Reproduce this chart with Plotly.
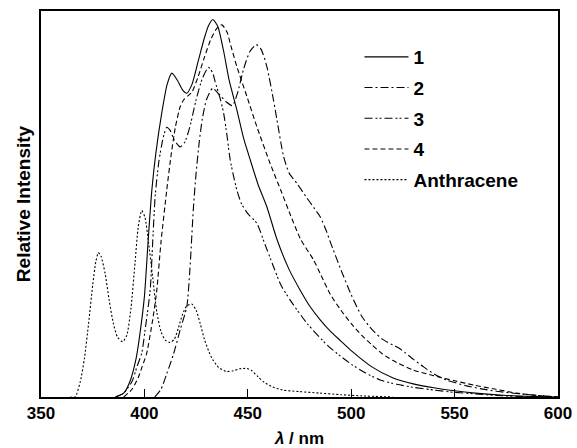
import plotly.graph_objects as go

# ---- data ----
x1 = [386, 390, 393, 396, 398, 400, 402, 403.6, 405.5, 408.4, 411, 413.3, 416, 418.5, 420.5, 423, 426, 429, 431,
      433.1, 435.5, 438.2, 441, 444.7, 448, 451.2, 455, 459.2, 464, 470, 475, 480, 485, 490, 495, 500, 510, 520,
      530, 540, 550, 560, 575, 590, 600]
y1 = [0, 0.01, 0.04, 0.10, 0.17, 0.26, 0.42, 0.536, 0.63, 0.736, 0.81, 0.839, 0.82, 0.795, 0.787, 0.81, 0.87,
      0.93, 0.962, 0.978, 0.96, 0.899, 0.82, 0.744, 0.67, 0.614, 0.55, 0.493, 0.41, 0.33, 0.28, 0.235, 0.20, 0.17,
      0.145, 0.12, 0.078, 0.05, 0.034, 0.024, 0.016, 0.01, 0.004, 0.001, 0]

x2 = [405, 408, 410.8, 414, 417.3, 420.5, 422, 423.7, 425, 426.5, 428, 430, 433, 436, 439.5, 442.5, 445, 448,
      451, 454.1, 456.5, 459.2, 462.4, 464.1, 467.3, 470, 473.8, 478, 482, 485, 488, 490, 495, 500, 505, 510,
      515, 520, 523, 526, 530, 535, 540, 546, 555, 563, 570, 580, 590, 600]
y2 = [0, 0.02, 0.06, 0.11, 0.174, 0.234, 0.33, 0.49, 0.58, 0.66, 0.72, 0.77, 0.80, 0.785, 0.765, 0.755, 0.787,
      0.85, 0.895, 0.913, 0.90, 0.856, 0.77, 0.718, 0.623, 0.58, 0.553, 0.52, 0.49, 0.467, 0.43, 0.40, 0.33,
      0.265, 0.21, 0.175, 0.15, 0.135, 0.127, 0.115, 0.098, 0.078, 0.06, 0.044, 0.03, 0.021, 0.015, 0.009,
      0.004, 0]

x3 = [386, 390, 394, 396.5, 398.7, 400.5, 402.8, 404, 405.2, 407, 409, 410.8, 412.5, 414.5, 417.3, 419.5, 422,
      425, 428, 431, 433, 434.2, 436.6, 438.2, 439.9, 441.5, 444.7, 447, 450, 454.4, 458, 462.4, 466, 470.5,
      478.6, 488.3, 495, 500, 507, 514, 522, 530, 540, 550, 560, 570, 585, 600]
y3 = [0, 0.01, 0.04, 0.08, 0.113, 0.18, 0.277, 0.40, 0.52, 0.61, 0.67, 0.699, 0.69, 0.665, 0.648, 0.66, 0.70,
      0.77, 0.825, 0.854, 0.84, 0.817, 0.774, 0.739, 0.679, 0.614, 0.536, 0.50, 0.475, 0.45, 0.40, 0.338, 0.29,
      0.251, 0.191, 0.135, 0.105, 0.085, 0.062, 0.044, 0.033, 0.025, 0.018, 0.012, 0.008, 0.004, 0.001, 0]

x4 = [390, 394, 397, 399, 401.1, 404, 406, 408, 410.8, 413, 415, 417.3, 419, 421, 423, 426, 429, 432, 435,
      437.5, 440, 441.5, 444.7, 449.6, 454.4, 460.8, 466, 470, 475.4, 481.8, 485, 490, 495, 500, 505, 510, 515,
      520, 530, 540, 550, 560, 570, 580, 590, 600]
y4 = [0, 0.02, 0.05, 0.08, 0.113, 0.20, 0.277, 0.40, 0.536, 0.63, 0.70, 0.752, 0.77, 0.78, 0.79, 0.83, 0.88,
      0.925, 0.955, 0.964, 0.945, 0.916, 0.856, 0.778, 0.70, 0.605, 0.535, 0.48, 0.41, 0.355, 0.32, 0.265,
      0.225, 0.19, 0.16, 0.135, 0.112, 0.095, 0.07, 0.055, 0.042, 0.03, 0.02, 0.01, 0.004, 0]

xa = [364, 366.5, 369, 371, 373, 375, 376.5, 377.7, 379, 381, 383, 385, 387, 389.5, 391.5, 393.5, 395.5, 397,
      398.7, 400.3, 402, 404, 406, 408, 410, 412.4, 414.5, 416.5, 418.5, 420.5, 422.9, 425, 427, 429, 431, 433,
      436, 439.9, 443, 446, 449.6, 452, 455, 458, 462, 467, 475, 485, 495, 505, 520]
ya = [0, 0, 0.04, 0.10, 0.19, 0.29, 0.35, 0.374, 0.365, 0.32, 0.25, 0.19, 0.155, 0.143, 0.16, 0.23, 0.35, 0.44,
      0.483, 0.465, 0.40, 0.31, 0.22, 0.17, 0.148, 0.141, 0.15, 0.18, 0.215, 0.236, 0.241, 0.225, 0.19, 0.15,
      0.12, 0.097, 0.076, 0.066, 0.068, 0.073, 0.074, 0.068, 0.052, 0.038, 0.026, 0.018, 0.014, 0.01, 0.006,
      0.003, 0]

names = ["1", "2", "3", "4", "Anthracene"]
tick_vals = [350, 400, 450, 500, 550, 600]
tick_text = ["350", "400", "450", "500", "550", "600"]

series = [(x1, y1), (x2, y2), (x3, y3), (x4, y4), (xa, ya)]
dashes = ["solid", "8px,3px,2px,3px", "8px,3px,2px,2px,2px,3px", "5px,3px", "2px,2px"]

FONT = "Liberation Sans, Arial, sans-serif"

fig = go.Figure()
for i, ((xs, ys), nm, d) in enumerate(zip(series, names, dashes)):
    fig.add_trace(go.Scatter(
        x=xs, y=ys, mode="lines", name=nm, legendgroup=nm,
        line=dict(color="black", width=1.1, dash=d, shape="spline", smoothing=0.6),
    ))

fig.update_layout(
    width=577, height=448,
    margin=dict(l=41, r=19, t=11, b=51, autoexpand=False),
    paper_bgcolor="white", plot_bgcolor="white",
    font=dict(family=FONT, color="black", size=16),
    showlegend=True,
    legend=dict(
        x=0.616, y=0.930, xanchor="left", yanchor="top",
        bgcolor="rgba(0,0,0,0)", borderwidth=0,
        font=dict(family=FONT, size=19, color="black", weight="bold"),
        tracegroupgap=3, itemwidth=44,
    ),
)
fig.update_xaxes(
    range=[350, 600], tickvals=tick_vals, ticktext=["<b>%s</b>" % t for t in tick_text],
    showline=True, linecolor="black", linewidth=1.5, mirror=True,
    ticks="inside", ticklen=8, tickwidth=1, tickcolor="black",
    showgrid=False, zeroline=False, automargin=False,
    tickfont=dict(family=FONT, size=17, color="black"),
    title=dict(text="<b><i>λ</i> / nm</b>", standoff=14,
               font=dict(family=FONT, size=17, color="black")),
)
fig.update_yaxes(
    range=[0, 1.0], showticklabels=False, ticks="",
    showline=True, linecolor="black", linewidth=1.5, mirror=True,
    showgrid=False, zeroline=False, automargin=False,
    title=dict(text="<b>Relative Intensity</b>", standoff=4,
               font=dict(family=FONT, size=19, color="black")),
)

fig.write_html("out.html")
